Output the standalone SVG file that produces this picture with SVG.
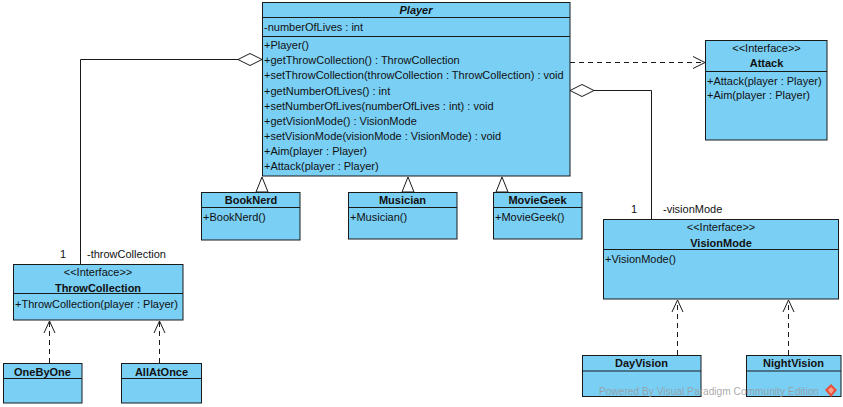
<svg xmlns="http://www.w3.org/2000/svg" width="843" height="407" viewBox="0 0 843 407">
<style>
.box{fill:#7ACFF5;stroke:#1a1a1a;stroke-width:1}
.div{stroke:#1a1a1a;stroke-width:1;fill:none}
text{font-family:"Liberation Sans",Arial,sans-serif;font-size:11px;fill:#111}
.t{font-weight:bold;text-anchor:middle}
.c{text-anchor:middle}
.ln{stroke:#1a1a1a;stroke-width:1;fill:none}
.dash{stroke:#1a1a1a;stroke-width:1;fill:none;stroke-dasharray:5,4}
.hollow{fill:#fff;stroke:#1a1a1a;stroke-width:1}
.wm{font-size:10.5px;fill:#9a9a9a;fill-opacity:0.85}
</style>
<rect width="843" height="407" fill="#fff"/>
<g id="connectors">
  <polyline class="ln" points="238,59.5 80.5,59.5 80.5,264"/>
  <polygon class="hollow" points="262,59.5 250,53.5 238,59.5 250,65.5"/>
  <polyline class="ln" points="594,90.5 651.5,90.5 651.5,219"/>
  <polygon class="hollow" points="570,90.5 582,84.5 594,90.5 582,96.5"/>
  <line class="dash" x1="570" y1="62.5" x2="704" y2="62.5"/>
  <polyline class="ln" points="693,56.5 705,62.5 693,68.5"/>
  <polygon class="hollow" points="262,177 256,192 268,192"/>
  <polygon class="hollow" points="408,177 402,192 414,192"/>
  <polygon class="hollow" points="502,177 496,192 508,192"/>
  <line class="dash" x1="49.5" y1="363" x2="49.5" y2="322"/>
  <polyline class="ln" points="44,333 49.5,321 55,333"/>
  <line class="dash" x1="159.5" y1="363" x2="159.5" y2="322"/>
  <polyline class="ln" points="154,333 159.5,321 165,333"/>
  <line class="dash" x1="677.5" y1="355" x2="677.5" y2="301"/>
  <polyline class="ln" points="672,312 677.5,300 683,312"/>
  <line class="dash" x1="788.5" y1="355" x2="788.5" y2="301"/>
  <polyline class="ln" points="783,312 788.5,300 794,312"/>
  <text x="63" y="258" class="c">1</text>
  <text x="87" y="258">-throwCollection</text>
  <text x="634" y="213" class="c">1</text>
  <text x="663" y="213">-visionMode</text>
</g>
<g id="Player">
  <rect class="box" x="262.5" y="2.5" width="307.5" height="173.5"/>
  <line class="div" x1="262.5" y1="17.5" x2="570" y2="17.5"/>
  <line class="div" x1="262.5" y1="36.5" x2="570" y2="36.5"/>
  <text x="416" y="14" class="t" font-style="italic">Player</text>
  <text x="264" y="31">-numberOfLives : int</text>
  <text x="264" y="49">+Player()</text>
  <text x="264" y="64.2">+getThrowCollection() : ThrowCollection</text>
  <text x="264" y="79.3">+setThrowCollection(throwCollection : ThrowCollection) : void</text>
  <text x="264" y="94.5">+getNumberOfLives() : int</text>
  <text x="264" y="109.6">+setNumberOfLives(numberOfLives : int) : void</text>
  <text x="264" y="124.8">+getVisionMode() : VisionMode</text>
  <text x="264" y="139.9">+setVisionMode(visionMode : VisionMode) : void</text>
  <text x="264" y="155.1">+Aim(player : Player)</text>
  <text x="264" y="170.2">+Attack(player : Player)</text>
</g>
<g id="Attack">
  <rect class="box" x="705.5" y="40.5" width="121.5" height="99.5"/>
  <line class="div" x1="705.5" y1="71.5" x2="827" y2="71.5"/>
  <text x="766.5" y="52" class="c">&lt;&lt;Interface&gt;&gt;</text>
  <text x="766.5" y="67" class="t">Attack</text>
  <text x="707" y="85">+Attack(player : Player)</text>
  <text x="707" y="99">+Aim(player : Player)</text>
</g>
<g id="BookNerd">
  <rect class="box" x="201.5" y="192.5" width="98.5" height="47.5"/>
  <line class="div" x1="201.5" y1="207.5" x2="300" y2="207.5"/>
  <text x="251" y="204" class="t">BookNerd</text>
  <text x="203" y="220.5">+BookNerd()</text>
</g>
<g id="Musician">
  <rect class="box" x="348.5" y="192.5" width="108.5" height="46.5"/>
  <line class="div" x1="348.5" y1="207.5" x2="457" y2="207.5"/>
  <text x="402.5" y="204" class="t">Musician</text>
  <text x="350" y="220.5">+Musician()</text>
</g>
<g id="MovieGeek">
  <rect class="box" x="493.5" y="192.5" width="88.5" height="46.5"/>
  <line class="div" x1="493.5" y1="207.5" x2="582" y2="207.5"/>
  <text x="537.5" y="204" class="t">MovieGeek</text>
  <text x="495" y="220.5">+MovieGeek()</text>
</g>
<g id="VisionMode">
  <rect class="box" x="603.5" y="219.5" width="235" height="79.5"/>
  <line class="div" x1="603.5" y1="249.5" x2="838.5" y2="249.5"/>
  <text x="721" y="231" class="c">&lt;&lt;Interface&gt;&gt;</text>
  <text x="721" y="246.5" class="t">VisionMode</text>
  <text x="605" y="263">+VisionMode()</text>
</g>
<g id="ThrowCollection">
  <rect class="box" x="13.5" y="264.5" width="169.5" height="55.5"/>
  <line class="div" x1="13.5" y1="293.5" x2="183" y2="293.5"/>
  <text x="98" y="276" class="c">&lt;&lt;Interface&gt;&gt;</text>
  <text x="98" y="291.5" class="t">ThrowCollection</text>
  <text x="15" y="308">+ThrowCollection(player : Player)</text>
</g>
<g id="OneByOne">
  <rect class="box" x="3.5" y="363.5" width="78.5" height="39.5"/>
  <line class="div" x1="3.5" y1="378.5" x2="82" y2="378.5"/>
  <text x="42.5" y="375.5" class="t">OneByOne</text>
</g>
<g id="AllAtOnce">
  <rect class="box" x="121.5" y="363.5" width="80" height="39.5"/>
  <line class="div" x1="121.5" y1="378.5" x2="201.5" y2="378.5"/>
  <text x="161.5" y="375.5" class="t">AllAtOnce</text>
</g>
<g id="DayVision">
  <rect class="box" x="582.5" y="355.5" width="118.5" height="41"/>
  <line class="div" x1="582.5" y1="371" x2="701" y2="371"/>
  <text x="641.5" y="367" class="t">DayVision</text>
</g>
<g id="NightVision">
  <rect class="box" x="746.5" y="355.5" width="94.5" height="41"/>
  <line class="div" x1="746.5" y1="371" x2="841" y2="371"/>
  <text x="793.5" y="367" class="t">NightVision</text>
</g>
<g id="watermark">
  <text x="599" y="395" class="wm" textLength="220" lengthAdjust="spacingAndGlyphs">Powered By  Visual Paradigm Community Edition</text>
  <polygon points="831,384 837,390 831,397 825,390" fill="#e8503a"/>
  <polygon points="831,387 834,390 831,394 828,390" fill="#f7a08c"/>
</g>
</svg>
